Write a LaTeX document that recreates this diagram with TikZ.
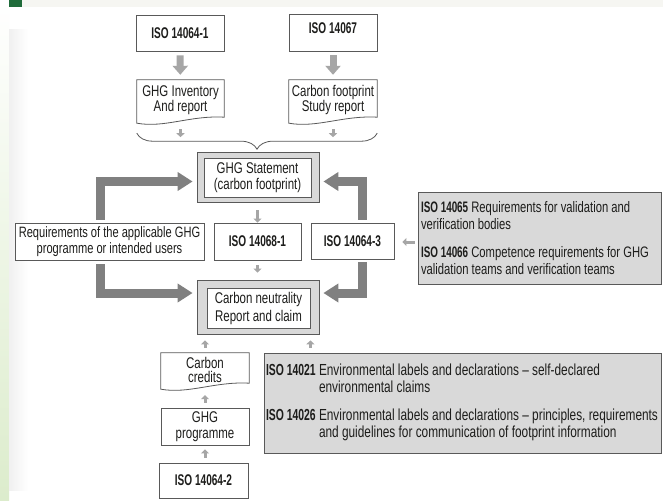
\documentclass[tikz,border=0pt]{standalone}
\usepackage{fontspec}
\setmainfont{Liberation Sans}[UprightFeatures={FakeStretch=0.74},BoldFeatures={FakeStretch=0.65}]
\usepackage{tikz}
\usetikzlibrary{positioning,arrows.meta,decorations.pathreplacing,calc,backgrounds}
\definecolor{colortext}   {RGB}{29 ,29 ,27 }
\definecolor{colorline}   {RGB}{89 ,89 ,89 }
\definecolor{colorpanel}  {RGB}{217,217,217}
\definecolor{colorfat}    {RGB}{128,128,128}
\definecolor{colorthin}   {RGB}{166,166,166}
\definecolor{colorgreen}  {RGB}{31 ,107,58 }
\definecolor{colorstrip}  {RGB}{220,236,204}
\definecolor{colorband}   {RGB}{246,246,242}

\begin{document}
\begin{tikzpicture}[
    x=1pt, y=-1pt,
    font={\fontsize{15.5}{16}\selectfont},
    box/.style={draw=colorline,line width=0.8pt,fill=white,text=colortext,align=center,inner sep=2pt},
    panel/.style={draw=colorline,line width=0.8pt,fill=colorpanel,text=colortext,align=flush left,font={\fontsize{16}{17}\selectfont}},
    doc/.style={text=colortext,align=center,inner sep=2pt,font={\fontsize{15.5}{14}\selectfont}},
    docline/.style={draw=colorline,line width=0.8pt,fill=white},
    fatarrow/.style={draw=colorfat,line width=9pt,-{Triangle[length=15pt,width=18pt]}},
    midarrow/.style={draw=colorthin,line width=7pt,-{Triangle[length=9pt,width=15pt]}},
    thinarrow/.style={draw=colorthin,line width=3pt,-{Triangle[length=4pt,width=8pt]}},
]
    \useasboundingbox (0,0) rectangle (663,500);
    \begin{scope}[on background layer]
    \fill[white] (0,0) rectangle (663,500);
    \fill[colorband] (0,0) rectangle (663,7);
    \shade[top color=white, bottom color=colorstrip] (0,0) rectangle (9,500);
    \shade[left color=black!6, right color=white] (9,30) rectangle (28,490);
    \fill[colorgreen] (9,0) rectangle (22,7);
    \end{scope}

    % top row
    \node[box,minimum width=88,minimum height=36] (iso1) at (180,33) {\textbf{ISO 14064-1}};
    \node[box,minimum width=88,minimum height=37,text depth=9pt] (iso67) at (333,32.5) {\textbf{ISO 14067}};

    \node[doc,minimum width=87,minimum height=40] (inv) at (180.5,100) {GHG Inventory\\And report};
    \node[doc,minimum width=88,minimum height=40] (cfp) at (333,100) {Carbon footprint\\Study report};
    \node[doc,minimum width=88,minimum height=33] (cred) at (205,369.5) {Carbon\\credits};
    \begin{scope}[on background layer]
    \foreach \n in {inv,cfp,cred}
        \draw[docline] (\n.north west) -- (\n.north east) -- ($(\n.south east)+(0,-3)$)
            .. controls ($(\n.south east)+(-34,-5)$) and ($(\n.south west)+(28,8)$) .. ($(\n.south west)+(0,3)$) -- cycle;
    \end{scope}

    \draw[midarrow,shorten <=4pt,shorten >=5pt] (iso1) -- (inv);
    \draw[midarrow,shorten <=4pt,shorten >=5pt] (iso67) -- (cfp);

    \draw[thinarrow] ($(inv.south)+(0,9)$) -- ++(0,8);
    \draw[thinarrow] ($(cfp.south)+(0,9)$) -- ++(0,8);
    \draw[colorline,line width=0.8pt,decorate,decoration={brace,amplitude=16pt,mirror}]
        ($(inv.south west)+(0,13)$) -- ($(cfp.south east)+(0,13)$);

    % statement and claim
    \node[panel,minimum width=122,minimum height=50] (stO) at (258,177) {};
    \node[box,minimum width=107,minimum height=39] (st) at (257.5,177.5) {GHG Statement\\(carbon footprint)};
    \node[panel,minimum width=122,minimum height=54] (cnO) at (258,307) {};
    \node[box,minimum width=103,minimum height=40,font={\fontsize{15.5}{18}\selectfont}] (cn) at (258.5,308) {Carbon neutrality\\Report and claim};

    \node[box,minimum width=189,minimum height=37,font={\fontsize{15}{15.5}\selectfont}] (req) at (109.5,241.5) {Requirements of the applicable GHG\\programme or intended users};
    \node[box,minimum width=87,minimum height=37] (iso68) at (257.5,241.5) {\textbf{ISO 14068-1}};
    \node[box,minimum width=83,minimum height=36] (iso643) at (352.5,241) {\textbf{ISO 14064-3}};

    \node[panel,minimum width=243,minimum height=92,text width=237,inner sep=3pt,font={\fontsize{15.2}{17}\selectfont}] (val) at (539.5,238)
        {\textbf{ISO 14065} Requirements for validation and\\verification bodies\\[11pt]
         \textbf{ISO 14066} Competence requirements for GHG\\validation teams and verification teams};

    \draw[thinarrow] ($(st.south)+(0,13)$) -- (iso68);
    \draw[thinarrow,shorten <=5pt,shorten >=7pt] (iso68) -- (iso68 |- cnO.north);
    \draw[thinarrow,shorten <=3pt,shorten >=8pt] (val.west |- iso643.east) ++(0,1) -- ($(iso643.east)+(0,1)$);

    \draw[fatarrow,shorten <=3pt,shorten >=4pt] ([xshift=-9pt]req.north) |- ([yshift=-4.5pt]stO.west);
    \draw[fatarrow,shorten <=4pt,shorten >=4pt] ([xshift=-9pt]req.south) |- ([yshift=14pt]cnO.west);
    \draw[fatarrow,shorten <=3pt,shorten >=4pt] ([xshift=10pt]iso643.north) |- ([yshift=-4.5pt]stO.east);
    \draw[fatarrow,shorten <=3pt,shorten >=4pt] ([xshift=10pt]iso643.south) |- ([yshift=14pt]cnO.east);

    % bottom column
    \node[box,minimum width=88,minimum height=37] (prog) at (205,426.5) {GHG\\programme};
    \node[box,minimum width=89,minimum height=35] (iso2) at (203.5,480.5) {\textbf{ISO 14064-2}};

    \node[panel,minimum width=397,minimum height=100,text width=393,inner sep=2pt] (lab) at (462.5,403)
        {\begin{tabular}{@{}l@{ }l@{}}
         \textbf{ISO 14021} & Environmental labels and declarations – self-declared\\
                            & environmental claims\\[11pt]
         \textbf{ISO 14026} & Environmental labels and declarations – principles, requirements\\
                            & and guidelines for communication of footprint information
         \end{tabular}};

    \draw[thinarrow,shorten <=5pt,shorten >=6pt] (cred.north) -- (cred.north |- cnO.south);
    \draw[thinarrow,shorten <=5pt,shorten >=6pt] ([xshift=-9pt]cnO.south east |- lab.north) -- ([xshift=-9pt]cnO.south east);
    \draw[thinarrow,shorten <=5pt,shorten >=9pt] (prog.north) -- (prog.north |- cred.south);
    \draw[thinarrow,shorten <=5pt,shorten >=4pt] (iso2.north -| prog) -- (prog.south);
\end{tikzpicture}
\end{document}
